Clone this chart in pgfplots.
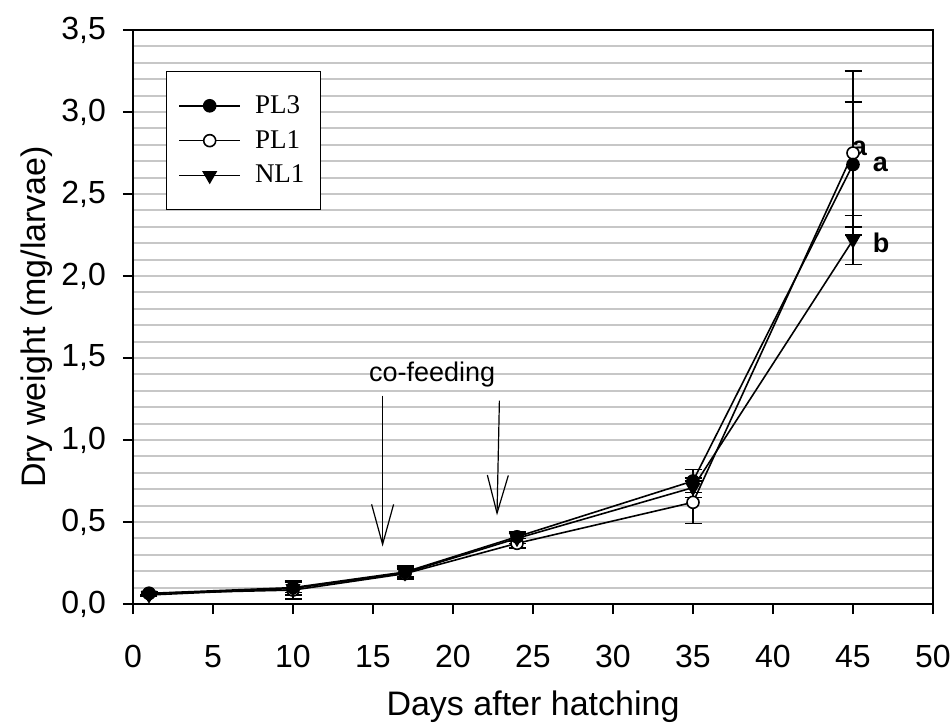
\documentclass[border=0pt]{standalone}
\usepackage{pgfplots}
\pgfplotsset{compat=1.18}
\usepackage{fontspec}
\setmainfont{Liberation Sans}
\newfontfamily\timesfont{Liberation Serif}
\usetikzlibrary{arrows.meta}

\pgfplotstableread{
x y e
1 0.065 0.01
10 0.100 0.03
17 0.195 0.03
24 0.410 0.03
35 0.750 0.07
45 2.680 0.38
}\plthree
\pgfplotstableread{
x y e
1 0.065 0.01
10 0.085 0.055
17 0.185 0.03
24 0.370 0.03
35 0.620 0.13
45 2.750 0.50
}\plone
\pgfplotstableread{
x y e
1 0.055 0.01
10 0.095 0.04
17 0.190 0.04
24 0.400 0.03
35 0.710 0.06
45 2.220 0.15
}\nlone

\begin{document}
\begin{tikzpicture}
\path[use as bounding box] (-66.5pt,-60pt) rectangle (409pt,302pt);
\begin{axis}[
  at={(0,0)}, anchor=south west,
  scale only axis, width=400pt, height=287pt,
  xmin=0, xmax=50, ymin=0, ymax=3.5,
  xtick={0,5,...,50}, ytick={0,0.5,...,3.5},
  minor y tick num=4,
  ymajorgrids, yminorgrids,
  major grid style={black!22, line width=1pt},
  minor grid style={black!22, line width=1pt},
  tick align=outside, major tick length=5pt, minor tick length=0pt,
  tick pos=left,
  axis line style={line width=0.9pt},
  tick style={black, line width=0.9pt},
  ticklabel style={font=\fontsize{16}{19}\selectfont},
  xticklabel style={anchor=base, yshift=-26.5pt},
  /pgf/number format/assume math mode=true,
  yticklabel style={anchor=east, xshift=-5pt, /pgf/number format/fixed, /pgf/number format/fixed zerofill,
    /pgf/number format/precision=1, /pgf/number format/use comma},
  xlabel={Days after hatching}, ylabel={Dry weight (mg/larvae)},
  label style={font=\fontsize{17}{20}\selectfont},
  xlabel style={at={(axis description cs:0.5,0)}, anchor=base, yshift=-55.5pt},
  ylabel style={at={(axis description cs:0,0.5)}, anchor=center, yshift=48pt},
  legend style={at={(0.041,0.929)}, anchor=north west, draw=black, line width=0.6pt,
    font=\timesfont\fontsize{13.5}{16}\selectfont, inner xsep=6pt, inner ysep=10pt,
    row sep=3pt, legend cell align=left,
    /tikz/every odd column/.append style={column sep=5pt}},
  legend image code/.code={\draw[mark repeat=2,mark phase=2] plot coordinates {(0pt,0pt) (15.25pt,0pt) (30.5pt,0pt)};},
  error bars/error bar style={line width=0.8pt, black},
  error bars/error mark options={rotate=90, mark size=4.25pt, line width=0.8pt, black},
]
\addlegendimage{black, line width=0.8pt, mark=*, mark size=3pt, mark options={fill=black}}
\addlegendentry{PL3\hspace{11.5pt}}
\addlegendimage{black, line width=0.8pt, mark=*, mark size=3pt, mark options={fill=white}}
\addlegendentry{PL1}
\addlegendimage{black, line width=0.8pt, mark=triangle*, mark size=3.6pt, mark options={fill=black, rotate=180}}
\addlegendentry{NL1}

\addplot[forget plot, black, line width=0.8pt, mark=*, mark size=3pt, mark options={fill=white},
  error bars/.cd, y dir=both, y explicit] table[x=x, y=y, y error=e] {\plone};
\addplot[forget plot, black, line width=0.8pt, mark=*, mark size=3pt, mark options={fill=black},
  error bars/.cd, y dir=both, y explicit] table[x=x, y=y, y error=e] {\plthree};
\addplot[forget plot, black, line width=0.8pt, mark=triangle*, mark size=3.6pt, mark options={fill=black, rotate=180},
  error bars/.cd, y dir=both, y explicit] table[x=x, y=y, y error=e] {\nlone};

\draw[line width=0.6pt, -{Straight Barb[length=20pt, width=11pt]}] (axis cs:15.6,1.27) -- (axis cs:15.6,0.35);
\draw[line width=0.6pt, -{Straight Barb[length=19pt, width=10.5pt]}] (axis cs:22.9,1.24) -- (axis cs:22.75,0.54);
\node[font=\fontsize{13.5}{16}\selectfont] at (axis cs:18.7,1.40) {co-feeding};
\node[anchor=west, font=\bfseries\fontsize{13.5}{16}\selectfont] at (axis cs:45.8,2.68) {a};
\node[anchor=west, font=\bfseries\fontsize{13.5}{16}\selectfont] at (axis cs:45.8,2.20) {b};
\node[font=\bfseries\fontsize{13.5}{16}\selectfont, inner sep=0pt] at (axis cs:45.4,2.78) {a};
\end{axis}
\end{tikzpicture}
\end{document}
